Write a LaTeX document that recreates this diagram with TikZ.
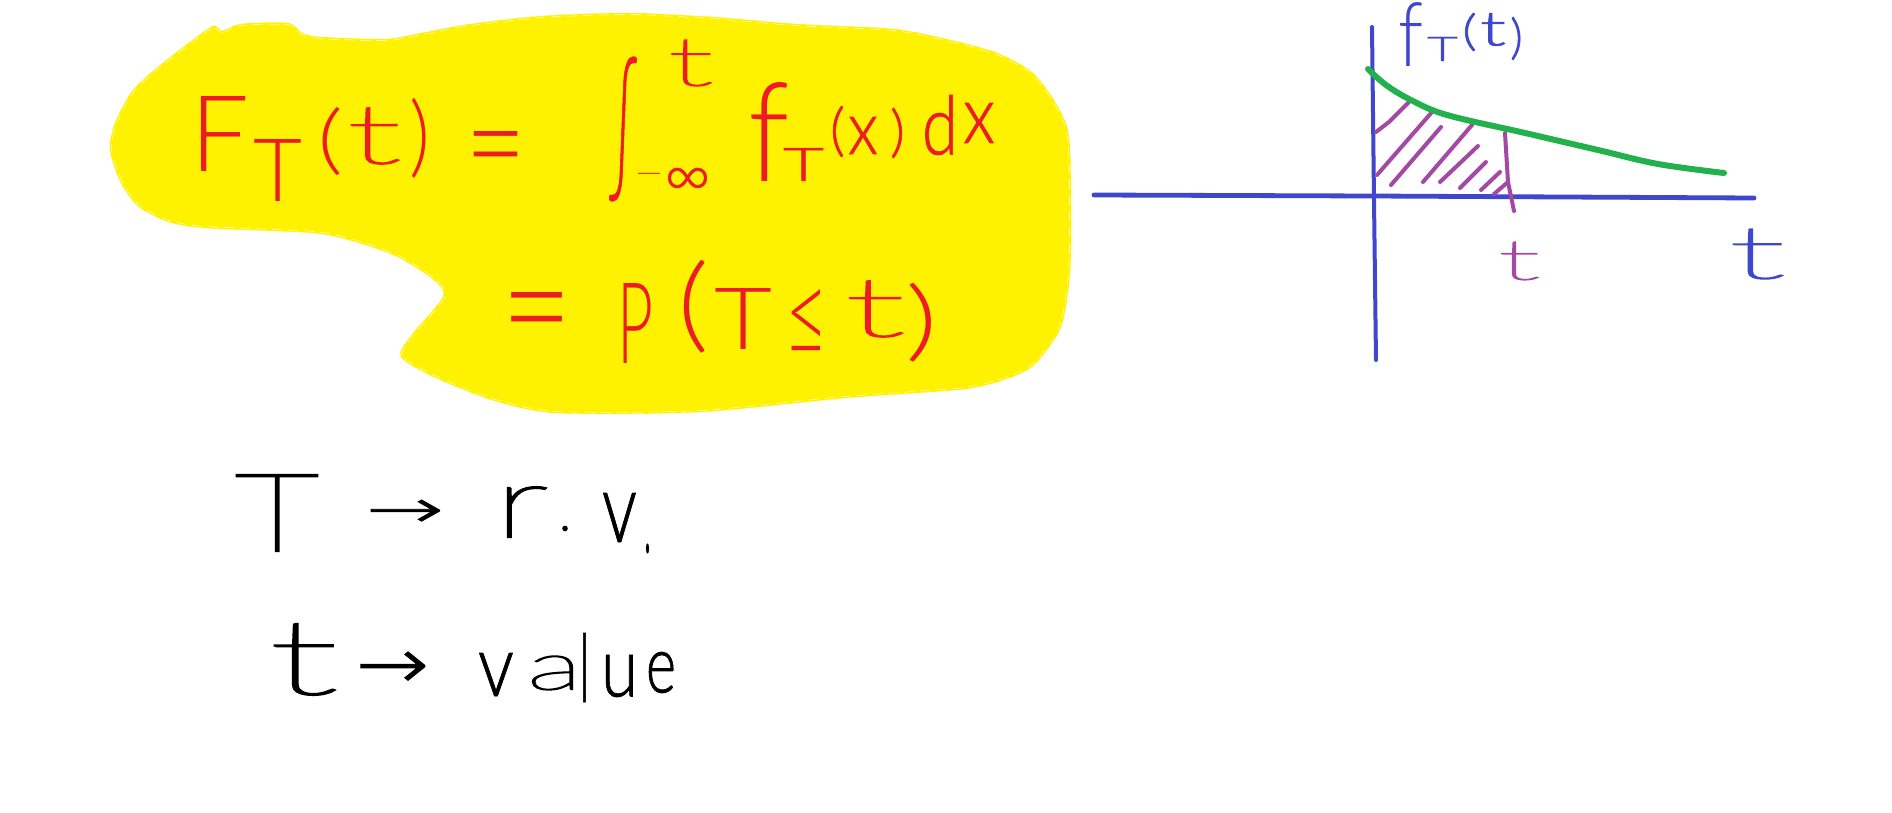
\documentclass[tikz,border=0pt]{standalone}
\usepackage{fontspec}
\usepackage{graphicx}
\setmainfont{Lato}[UprightFont=* Light]
\newfontfamily\hl{Lato}[UprightFont=* Hairline,FakeBold=2]
\newfontfamily\rg{Lato}[UprightFont=* Light,FakeBold=1]
\newfontfamily\symf{DejaVu Sans}[UprightFont=* ExtraLight,FakeBold=1.5]
\definecolor{blobyellow}{HTML}{FFF200}
\definecolor{penred}{HTML}{ED1C24}
\definecolor{penblue}{HTML}{3F48CC}
\definecolor{pengreen}{HTML}{22B14C}
\definecolor{penpurple}{HTML}{A349A4}
\newsavebox\glbox
\newlength\glw
\newlength\glh
% one glyph fitted to the pixel box x1,y1,x2,y2
\newcommand{\gl}[5]{\glw=\dimexpr 0.5pt*(#3-#1)\relax\glh=\dimexpr 0.5pt*(#4-#2)\relax
  \sbox\glbox{\resizebox*{\glw}{\glh}{#5}}%
  \rlap{\kern\dimexpr 0.5pt*(#1-\ox)\relax\raise\dimexpr 0.5pt*(\oy-#4)+\dp\glbox\relax\box\glbox}}
% one line of writing as one node
\newcommand{\writing}[7]{\node[writ,text=#2,anchor=base west] (#1) at (#3,#6)
  {\def\ox{#3}\def\oy{#6}\hbox to \dimexpr 0.5pt*(#5-#3)\relax{\rule{0pt}{\dimexpr 0.5pt*(#6-#4)\relax}#7\hss}};}
\tikzset{
  writ/.style={inner sep=0pt,outer sep=0pt,font=\fontsize{45}{50}\selectfont},
  penline/.style={line cap=round,line join=round},
  hatch/.style={penpurple,line width=2pt,penline},
}
\def\blobpath{plot[smooth cycle,tension=0.45] coordinates {
 (211,27)(222,31)(241,24)(288,23)(302,33)(320,37)(386,39)(422,33)(471,24)(543,16)(627,13)(712,17)(796,24)(893,29)(946,39)
 (997,53)(1036,76)(1067,127)(1071,200)(1070,273)(1061,327)(1036,363)(1012,377)(965,389)(845,398)(700,412)(556,413)(492,400)
 (434,377)(401,357)(410,337)(443,297)(434,280)(398,257)(356,242)(314,233)(205,228)(169,222)(139,207)(121,183)(110,150)(115,123)(133,90)(163,63)}}
\begin{document}
\begin{tikzpicture}[x=0.5pt,y=-0.5pt]
\useasboundingbox (0,0) rectangle (1892,813);
\fill[white] (0,0) rectangle (1892,813);
% yellow blob with its faint inner rim
\fill[blobyellow] \blobpath;
\begin{scope}
\clip \blobpath;
\draw[white,line width=1.8pt,dash pattern=on 5pt off 3pt] \blobpath;
\draw[blobyellow,line width=1.3pt] \blobpath;
\end{scope}
% formula
\writing{eqa}{penred}{190}{97}{527}{202}{%
 \gl{190}{97}{249}{172}{F}\gl{253}{140}{302}{202}{T}\gl{317}{108}{343}{176}{(}\gl{347}{108}{401}{164}{\hl t}\gl{410}{98}{431}{178}{)}\gl{466}{132}{527}{189}{=}}
\writing{eqb}{penred}{609}{40}{995}{201}{%
 \gl{609}{57}{637}{201}{\rg ∫}\gl{668}{40}{713}{86}{\hl t}\gl{634}{173}{664}{180}{\rg −}\gl{664}{168}{711}{197}{\rg ∞}%
 \gl{748}{83}{789}{182}{f}\gl{783}{148}{824}{181}{\rg T}\gl{830}{106}{845}{157}{\rg (}\gl{848}{117}{878}{154}{\rg x}\gl{890}{108}{905}{158}{\rg )}\gl{922}{95}{958}{155}{\rg d}\gl{963}{103}{995}{143}{\rg x}}
\writing{eqc}{penred}{501}{260}{938}{363}{%
 \gl{501}{293}{572}{359}{=}\gl{617}{283}{653}{363}{P}\gl{677}{260}{709}{353}{(}\gl{714}{288}{772}{349}{T}\gl{784}{289}{828}{355}{≤}\gl{845}{281}{905}{337}{\hl t}\gl{905}{283}{938}{362}{)}}
% plot
\draw[penblue,line width=2.4pt,penline] (1094,195) -- (1372,196) -- (1754,198);
\draw[penblue,line width=2pt,penline] (1372,27) -- (1374,200) -- (1376,360);
\draw[hatch] (1409,102) -- (1389,122) -- (1376,132);
\draw[hatch] (1432,112) -- (1377,175);
\draw[hatch] (1441,127) -- (1391,185);
\draw[hatch] (1472,125) -- (1423,182);
\draw[hatch] (1478,146) -- (1440,182);
\draw[hatch] (1486,162) -- (1460,188);
\draw[hatch] (1500,172) -- (1481,190);
\draw[hatch] (1508,182) -- (1494,194);
\draw[hatch] (1505,133) -- (1508,182) -- (1514,211);
\draw[pengreen,line width=3pt,penline] plot[smooth,tension=0.6] coordinates {(1368,69)(1386,85)(1411,100)(1447,115)(1525,133)(1598,150)(1658,164)(1724,173)};
\writing{pdf}{penblue}{1398}{3}{1523}{67}{%
 \gl{1398}{3}{1423}{67}{f}\gl{1427}{37}{1458}{61}{\rg T}\gl{1462}{13}{1477}{51}{\rg (}\gl{1480}{13}{1506}{46}{\rg t}\gl{1510}{17}{1523}{60}{\rg )}}
\writing{tmark}{penpurple}{1498}{242}{1540}{280}{\gl{1498}{242}{1540}{280}{\hl t}}
\writing{taxis}{penblue}{1729}{229}{1785}{279}{\gl{1729}{229}{1785}{279}{\hl t}}
% notes
\writing{notea}{black}{235}{475}{651}{553}{%
 \gl{235}{475}{319}{551}{\hl T}\gl{366}{500}{444}{527}{\symf →}\gl{494}{487}{548}{537}{\hl r}\gl{559}{526}{571}{531}{\rg .}\gl{602}{493}{637}{542}{\rg v}\gl{644}{544}{651}{553}{\rg .}}
\writing{noteb}{black}{269}{624}{676}{702}{%
 \gl{269}{624}{338}{695}{\hl t}\gl{356}{652}{429}{688}{\symf →}\gl{478}{653}{514}{696}{\rg v}\gl{527}{656}{582}{690}{\hl a}\gl{579}{633}{590}{702}{\rg l}\gl{601}{655}{638}{697}{\rg u}\gl{646}{652}{676}{693}{\rg e}}
\end{tikzpicture}
\end{document}
